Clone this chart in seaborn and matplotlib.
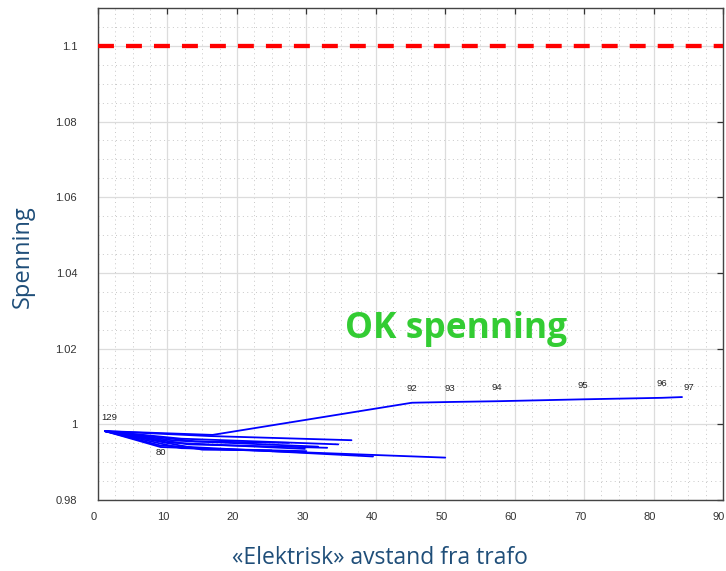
import matplotlib
matplotlib.use("Agg")
import matplotlib.pyplot as plt
from matplotlib.ticker import MultipleLocator, FixedLocator
from matplotlib.transforms import ScaledTranslation
import seaborn as sns
import pandas as pd

# Feeder branches: distance from transformer and per-unit voltage along each path
main_x = [1, 16.5, 45.2, 50.7, 57.5, 69.8, 81.2, 84.1]
main_y = [0.9982, 0.9972, 1.0057, 1.0059, 1.0061, 1.0066, 1.0070, 1.0072]
main_ids = [129, None, 92, 93, 94, 95, 96, 97]

fan_x = [
    [1, 16, 36.5],
    [1, 12, 34.6],
    [1, 11, 31.7],
    [1, 10, 29.8],
    [1, 9, 39.6],
    [1, 9, 50.0],
    [1, 14, 27.5],
    [1, 12, 30.0],
    [1, 15, 25.0],
    [1, 13, 33.0],
]
fan_y = [
    [0.9982, 0.9969, 0.9958],
    [0.9982, 0.9962, 0.9947],
    [0.9982, 0.9957, 0.9941],
    [0.9982, 0.9952, 0.9935],
    [0.9982, 0.9944, 0.9915],
    [0.9982, 0.9940, 0.9912],
    [0.9982, 0.9955, 0.9951],
    [0.9982, 0.9937, 0.9929],
    [0.9982, 0.9933, 0.9931],
    [0.9982, 0.9947, 0.9938],
]
node80 = (8.9, 0.9940)

limit_voltage = 1.1
y_ticks = [0.98, 1.0, 1.02, 1.04, 1.06, 1.08, 1.1]
y_tick_labels = ["0.98", "1", "1.02", "1.04", "1.06", "1.08", "1.1"]
x_ticks = [0, 10, 20, 30, 40, 50, 60, 70, 80, 90]

rows = []
for i, (xs, ys) in enumerate([(main_x, main_y)] + list(zip(fan_x, fan_y))):
    for xv, yv in zip(xs, ys):
        rows.append({"branch": i, "dist": xv, "volt": yv})
df = pd.DataFrame(rows)

sns.set_style("white")
plt.rcParams["font.family"] = ["Liberation Sans", "DejaVu Sans"]

fig = plt.figure(figsize=(7.26, 5.71), dpi=100)
ax = fig.add_axes([98 / 726, 1 - 500 / 571, 625 / 726, 492 / 571])

ax.set_xlim(0, 90)
ax.set_ylim(0.98, 1.11)
ax.xaxis.set_major_locator(FixedLocator(x_ticks))
ax.yaxis.set_major_locator(FixedLocator(y_ticks))
ax.set_yticklabels(y_tick_labels)
ax.xaxis.set_minor_locator(MultipleLocator(2.5))
ax.yaxis.set_minor_locator(MultipleLocator(0.005))
ax.grid(which="major", color="#dcdcdc", linewidth=0.9, linestyle="-")
ax.grid(which="minor", color="#c8c8c8", linewidth=0.7, linestyle=(0, (1, 3.5)))
ax.set_axisbelow(True)

sns.lineplot(data=df, x="dist", y="volt", units="branch", estimator=None,
             sort=False, color="#0000ff", linewidth=1.3, ax=ax, legend=False)

ax.axhline(limit_voltage, color="#ff0000", linewidth=3.1,
           linestyle=(0, (3.7, 2.8)), zorder=3)

# node identifiers
for xv, yv, nid in zip(main_x, main_y, main_ids):
    if nid is None:
        continue
    dx, dy = (0, 10)
    if nid == 129:
        dx, dy = (3, 10)
    if nid == 97:
        dx, dy = (5, 7)
    ax.annotate(str(nid), (xv, yv), xytext=(dx, dy), textcoords="offset points",
                ha="center", va="center", fontsize=6.8, color="#222222")
ax.annotate("80", node80, xytext=(1, -4), textcoords="offset points",
            ha="center", va="center", fontsize=6.8, color="#222222")

ax.text(51.6, 1.0229, "OK spenning", color="#33cc33", fontsize=25.5,
        fontweight="bold", family=["Open Sans", "DejaVu Sans"],
        ha="center", va="baseline")

ax.set_xlabel("")
ax.set_ylabel("")
ax.tick_params(axis="both", which="major", direction="in", length=4,
               top=True, right=True, labelsize=8, labelcolor="#333333",
               color="#333333", width=0.9)
ax.tick_params(axis="y", which="major", pad=15)
ax.tick_params(axis="x", which="major", pad=9)
ax.tick_params(which="minor", length=0)
shift = ScaledTranslation(-4 / 100, 0, fig.dpi_scale_trans)
for lbl in ax.get_xticklabels():
    lbl.set_transform(lbl.get_transform() + shift)
for sp in ax.spines.values():
    sp.set_visible(True)
    sp.set_color("#444444")
    sp.set_linewidth(1.0)

fig.text(380 / 726, 1 - 558 / 571, "«Elektrisk» avstand fra trafo",
         color="#1f4e79", fontsize=16.5, family=["Open Sans", "DejaVu Sans"],
         ha="center", va="center")
fig.text(23 / 726, 1 - 257 / 571, "Spenning", color="#1f4e79", fontsize=17,
         family=["Open Sans", "DejaVu Sans"], rotation=90,
         ha="center", va="center")

fig.savefig("out.png", dpi=100)
